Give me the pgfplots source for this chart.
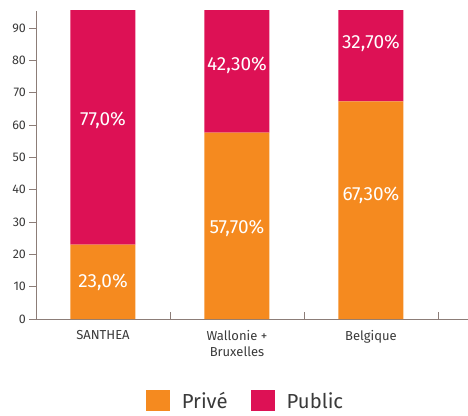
\documentclass[border=0pt]{standalone}
\usepackage{pgfplots}
\pgfplotsset{compat=1.18}
\usepackage{fontspec}
\setmainfont{Fira Sans}
\definecolor{prive}{HTML}{F58A1F}
\definecolor{public}{HTML}{DD1155}
\definecolor{axisc}{HTML}{8C7D78}
\definecolor{txt}{HTML}{3A3A3A}
\begin{document}
\begin{tikzpicture}
\pgfplotsset{common/.style={
  scale only axis, width=432pt, height=308pt,
  xmin=-0.5, xmax=2.724, ymin=0, ymax=95.3,
  at={(0,0)}, anchor=south west}}
\begin{axis}[common, name=ax,
  axis lines*=left,
  axis line style={axisc, line width=0.8pt},
  ybar stacked, bar width=65pt,
  ytick={0,10,...,90},
  xtick={0.5,1.5,2.5},
  xticklabels={},
  x tick style={yshift=7pt},
  tick align=outside,
  major tick length=6.5pt,
  tick style={axisc, line width=0.8pt},
  extra x ticks={0,1,2},
  extra x tick labels={SANTHEA, {Wallonie +\\Bruxelles}, Belgique},
  extra x tick style={major tick length=0pt,
    xticklabel style={align=center, font=\fontsize{13}{16}\selectfont, text=txt, yshift=-8pt}},
  yticklabel style={font=\fontsize{12.5}{14}\selectfont, text=txt},
  /pgf/number format/assume math mode=true,
  legend columns=2,
  legend style={at={(0.4826,-0.266)}, anchor=center, draw=none, inner sep=0pt,
    font=\fontsize{20.3}{22}\selectfont, text=txt,
    nodes={inner sep=0pt},
    /tikz/every odd column/.append style={column sep=12pt},
    /tikz/every even column/.append style={column sep=23pt}},
  legend image code/.code={\path[#1, draw=none] (0pt,-10.5pt) rectangle (24pt,10.5pt);},
]
\addplot[fill=prive, draw=none] coordinates {(0,23.0) (1,57.7) (2,67.3)};
\addplot[fill=public, draw=none] coordinates {(0,77.0) (1,42.3) (2,32.7)};
\legend{Privé, Public}
\end{axis}
\begin{axis}[common, hide axis, clip=false,
  point meta=explicit symbolic,
  nodes near coords, nodes near coords align={center},
  every node near coord/.append style={font=\fontsize{19}{21}\selectfont, text=white}]
\addplot[only marks, mark size=0pt] table[meta=lab] {
x y lab
0 11.5 23,0\%
0 61.6 77,0\%
1 28.2 57,70\%
1 78.6 42,30\%
2 38.4 67,30\%
2 85.4 32,70\%
};
\end{axis}
\pgfresetboundingbox
\path[use as bounding box] (-36pt,-96pt) rectangle (432pt,319pt);
\end{tikzpicture}
\end{document}
